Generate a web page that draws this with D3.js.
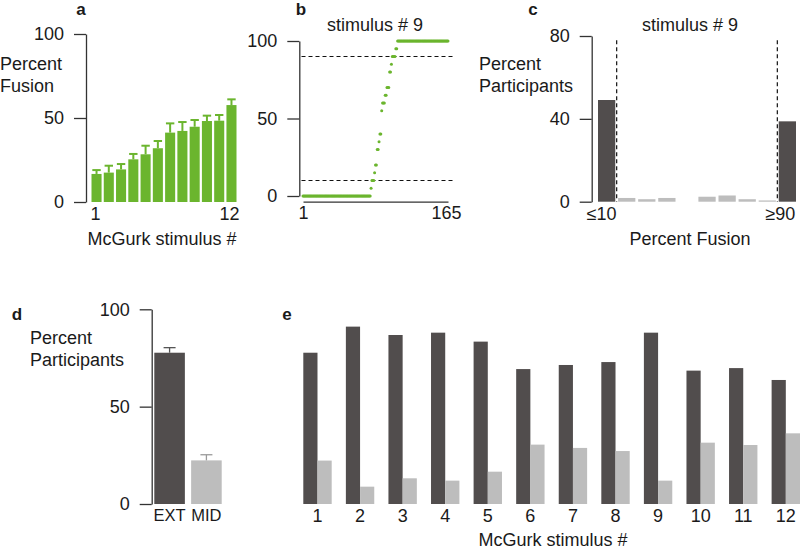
<!DOCTYPE html>
<html><head><meta charset="utf-8">
<script src="https://cdn.jsdelivr.net/npm/d3@7"></script>
<style>
body{margin:0;background:#fff}
svg text{font-family:"Liberation Sans",Arial,Helvetica,sans-serif;fill:#1a1a1a}
</style></head><body>
<svg id="chart" width="800" height="550"></svg>
<script>
// ---------- DATA ----------
const stimuli = [1,2,3,4,5,6,7,8,9,10,11,12];
// panel a: mean percent fusion per stimulus and its SEM
const fusionMean = [16.7,17.5,19.4,25.4,28.4,32.0,41.3,42.3,44.8,48.2,48.4,57.7];
const fusionSem  = [2.3,4.1,3.2,3.2,5.1,4.3,5.5,5.3,4.0,3.2,3.4,3.4];
// panel b: stimulus 9 sorted fusion values (value, number of participants)
const stim9Value = [0,5,10,15,20,30,35,40,55,60,65,70,80,85,90,95,100];
const stim9Count = [77,1,3,1,2,2,1,2,1,3,2,3,2,1,4,2,58];
// panel c: histogram of stimulus 9
const histLabels = ["≤10","b2","b3","b4","b5","b6","b7","b8","b9","≥90"];
const histValues = [49.1,1.8,1.2,1.8,0,2.4,3.0,1.2,0.6,38.8];
// panel d: mean EXT / MID
const groupLabels = ["EXT","MID"];
const groupValues = [77.7,22.4];
const groupSem = [2.6,2.9];
// panel e: per-stimulus EXT / MID
const extValues = [77.7,91.1,86.8,88.0,83.4,69.3,71.4,72.9,88.0,68.5,69.8,63.7];
const midValues = [22.3,8.9,13.2,12.0,16.6,30.5,28.8,27.2,12.0,31.5,30.3,36.3];

// ---------- STYLE ----------
const GREEN = "#6bb52e", DARK = "#514d4d", LIGHT = "#bdbdbd", AX = "#333";
const FS = "18px";
const svg = d3.select("#chart");

function styleAxis(g, size){
  g.selectAll(".domain").attr("stroke",AX).attr("stroke-width",1.3);
  g.selectAll(".tick line").attr("stroke",AX).attr("stroke-width",1.3);
  g.selectAll("text").style("font-size",size||FS).attr("fill","#1a1a1a");
  g.attr("font-family",null).attr("font-size",null);
}
function text(x,y,s,anchor,opts={}){
  const t = svg.append("text").attr("x",x).attr("y",y).attr("text-anchor",anchor||"start")
    .style("font-size",opts.size||FS).text(s);
  if(opts.bold) t.style("font-weight","bold");
  return t;
}
function leftAxis(scale, x, ticks){
  const g = svg.append("g").attr("transform",`translate(${x},0)`)
    .call(d3.axisLeft(scale).tickValues(ticks).tickSize(12).tickPadding(10).tickSizeOuter(0));
  styleAxis(g); return g;
}
const LET = {bold:true, size:"17px"};

// ---------- PANEL A ----------
{
  const y = d3.scaleLinear().domain([0,100]).range([202,34]);
  const x = d3.scaleBand().domain(stimuli).range([91.5,236.5]).paddingInner(0.18).paddingOuter(0);
  leftAxis(y, 86, [0,50,100]);
  const g = svg.append("g");
  g.selectAll("rect").data(stimuli).join("rect")
    .attr("x",d=>x(d)).attr("width",x.bandwidth())
    .attr("y",(d,i)=>y(fusionMean[i])).attr("height",(d,i)=>y(0)-y(fusionMean[i]))
    .attr("fill",GREEN);
  g.selectAll("line.e").data(stimuli).join("line").attr("class","e")
    .attr("x1",d=>x(d)+x.bandwidth()/2).attr("x2",d=>x(d)+x.bandwidth()/2)
    .attr("y1",(d,i)=>y(fusionMean[i])).attr("y2",(d,i)=>y(fusionMean[i]+fusionSem[i]))
    .attr("stroke",GREEN).attr("stroke-width",2);
  g.selectAll("line.c").data(stimuli).join("line").attr("class","c")
    .attr("x1",d=>x(d)+x.bandwidth()/2-4.2).attr("x2",d=>x(d)+x.bandwidth()/2+4.2)
    .attr("y1",(d,i)=>y(fusionMean[i]+fusionSem[i])).attr("y2",(d,i)=>y(fusionMean[i]+fusionSem[i]))
    .attr("stroke",GREEN).attr("stroke-width",2);
  const xa = svg.append("g").attr("transform","translate(0,202)")
    .call(d3.axisBottom(x).tickValues([1,12]).tickSize(0).tickPadding(5));
  styleAxis(xa); xa.select(".domain").remove();
  xa.selectAll(".tick text").attr("dx",d=>d===12?"-2":"-1");
  text(0,70,"Percent"); text(0,92,"Fusion");
  text(162,245,"McGurk stimulus #","middle");
  text(81,15,"a","middle",LET);
}

// ---------- PANEL B ----------
{
  const y = d3.scaleLinear().domain([0,100]).range([196,41]);
  const x = d3.scaleLinear().domain([1,165]).range([303,448]);
  leftAxis(y, 299.3, [0,50,100]);
  const xa = svg.append("g").attr("transform","translate(0,201.7)")
    .call(d3.axisBottom(x).tickValues([1,165]).tickSize(0).tickPadding(5).tickSizeOuter(0));
  styleAxis(xa);
  xa.selectAll(".tick text").attr("dx",d=>d===165?"-2":"0");
  [10,90].forEach(v=>{
    svg.append("line").attr("x1",x(1)-1.5).attr("x2",x(165)+5)
      .attr("y1",y(v)).attr("y2",y(v)).attr("stroke","#111").attr("stroke-width",1.2)
      .attr("stroke-dasharray","4,3");
  });
  const pts = [];
  stim9Value.forEach((v,i)=>{ for(let k=0;k<stim9Count[i];k++) pts.push(v); });
  svg.append("g").selectAll("circle").data(pts).join("circle")
    .attr("cx",(d,i)=>x(i+1)).attr("cy",d=>y(d)).attr("r",1.5).attr("fill",GREEN);
  text(375,30.5,"stimulus # 9","middle");
  text(301,15,"b","middle",LET);
}

// ---------- PANEL C ----------
{
  const y = d3.scaleLinear().domain([0,80]).range([201.7,36]);
  const x = d3.scaleBand().domain(histLabels).range([598,796]).paddingInner(0.14).paddingOuter(0);
  leftAxis(y, 591.7, [0,40,80]);
  svg.append("g").selectAll("rect").data(histLabels).join("rect")
    .attr("x",d=>x(d)).attr("width",x.bandwidth())
    .attr("y",(d,i)=>y(histValues[i])).attr("height",(d,i)=>y(0)-y(histValues[i]))
    .attr("fill",(d,i)=> (i===0||i===histLabels.length-1)?DARK:LIGHT);
  const gap = x.step()*x.paddingInner()/2;
  [x(histLabels[0])+x.bandwidth()+gap, x(histLabels[9])-gap].forEach(px=>{
    svg.append("line").attr("x1",px).attr("x2",px).attr("y1",y(78)).attr("y2",y(0))
      .attr("stroke","#111").attr("stroke-width",1.2).attr("stroke-dasharray","4,3");
  });
  const xa = svg.append("g").attr("transform","translate(0,202)")
    .call(d3.axisBottom(x).tickValues(["≤10","≥90"]).tickSize(0).tickPadding(5));
  styleAxis(xa); xa.select(".domain").remove();
  xa.selectAll(".tick text").attr("dx",d=>d==="≥90"?"-7":"-5");
  text(479,70,"Percent"); text(479,92,"Participants");
  text(690,30.5,"stimulus # 9","middle");
  text(690,245,"Percent Fusion","middle");
  text(533,15,"c","middle",LET);
}

// ---------- PANEL D ----------
const yDE = d3.scaleLinear().domain([0,100]).range([504,309.3]);
{
  const y = yDE;
  const x = d3.scaleBand().domain(groupLabels).range([154.3,221.7]).paddingInner(0.17).paddingOuter(0);
  leftAxis(y, 151.7, [0,50,100]);
  const cols = [DARK, LIGHT], ecols = ["#555","#9a9a9a"];
  svg.append("g").selectAll("rect").data(groupLabels).join("rect")
    .attr("x",d=>x(d)).attr("width",x.bandwidth())
    .attr("y",(d,i)=>y(groupValues[i])).attr("height",(d,i)=>y(0)-y(groupValues[i]))
    .attr("fill",(d,i)=>cols[i]);
  groupLabels.forEach((d,i)=>{
    const cx = x(d)+x.bandwidth()/2, top = y(groupValues[i]+groupSem[i]);
    svg.append("line").attr("x1",cx).attr("x2",cx).attr("y1",y(groupValues[i])).attr("y2",top)
      .attr("stroke",ecols[i]).attr("stroke-width",1.3);
    svg.append("line").attr("x1",cx-6).attr("x2",cx+6).attr("y1",top).attr("y2",top)
      .attr("stroke",ecols[i]).attr("stroke-width",1.3);
  });
  const xa = svg.append("g").attr("transform","translate(0,504)")
    .call(d3.axisBottom(x).tickSize(0).tickPadding(5));
  styleAxis(xa, "16.5px"); xa.select(".domain").remove();
  text(30,344,"Percent"); text(30,366,"Participants");
  text(17,320,"d","middle",LET);
}

// ---------- PANEL E ----------
{
  const y = yDE;
  const x = d3.scaleBand().domain(stimuli).range([303.3,800]).paddingInner(1/3).paddingOuter(0);
  const sub = d3.scaleBand().domain(["EXT","MID"]).range([0,x.bandwidth()]);
  const g = svg.append("g");
  g.selectAll("rect.ext").data(stimuli).join("rect").attr("class","ext")
    .attr("x",d=>x(d)+sub("EXT")).attr("width",sub.bandwidth())
    .attr("y",(d,i)=>y(extValues[i])).attr("height",(d,i)=>y(0)-y(extValues[i])).attr("fill",DARK);
  g.selectAll("rect.mid").data(stimuli).join("rect").attr("class","mid")
    .attr("x",d=>x(d)+sub("MID")).attr("width",sub.bandwidth())
    .attr("y",(d,i)=>y(midValues[i])).attr("height",(d,i)=>y(0)-y(midValues[i])).attr("fill",LIGHT);
  const xa = svg.append("g").attr("transform","translate(0,504)")
    .call(d3.axisBottom(x).tickSize(0).tickPadding(5));
  styleAxis(xa); xa.select(".domain").remove();
  text(553,546,"McGurk stimulus #","middle");
  text(287,320,"e","middle",LET);
}
</script>
</body></html>
